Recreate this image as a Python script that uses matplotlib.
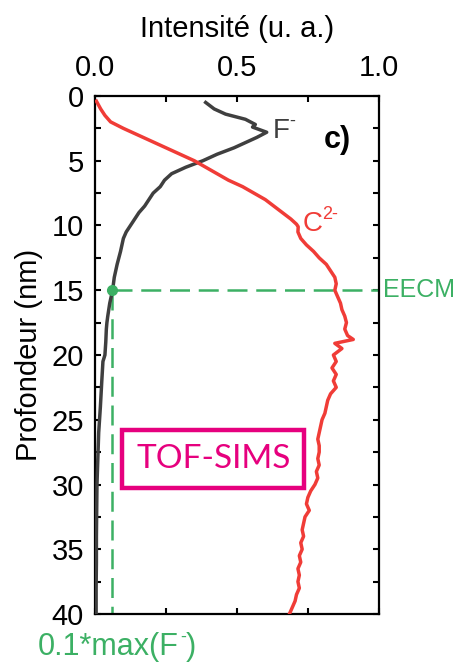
import numpy as np
import matplotlib
matplotlib.use("Agg")
import matplotlib.pyplot as plt
from matplotlib.ticker import MultipleLocator
from matplotlib.transforms import offset_copy

plt.rcParams["font.family"] = ["Liberation Sans", "DejaVu Sans"]

# ---------- data ----------
depth_f = [0.5, 1.0, 1.4, 1.8, 2.2, 2.4, 2.8, 3.2, 3.6, 4.0, 4.5, 5.0, 5.5, 6.0, 6.5,
           7.0, 7.5, 8.0, 8.5, 9.0, 9.5, 10.0, 10.5, 11.0, 11.5, 12.0, 13.0, 14.0,
           15.0, 16.0, 17.0, 17.5, 18.0, 19.0, 20.0, 20.5, 22.0, 24.0, 26.0, 28.0,
           30.0, 32.0, 34.0, 36.0, 38.0, 40.0]
f_minus = [0.39, 0.42, 0.46, 0.53, 0.565, 0.555, 0.605, 0.57, 0.53, 0.49, 0.43, 0.38,
           0.32, 0.27, 0.245, 0.23, 0.205, 0.19, 0.175, 0.155, 0.14, 0.125, 0.11, 0.10,
           0.095, 0.09, 0.078, 0.068, 0.062, 0.052, 0.045, 0.042, 0.040, 0.038, 0.035,
           0.028, 0.024, 0.019, 0.013, 0.010, 0.007, 0.006, 0.005, 0.005, 0.004, 0.004]

depth_c = [0.4, 1.0, 1.5, 2.0, 2.5, 3.0, 3.5, 4.0, 4.5, 5.0, 5.5, 6.0, 6.5, 7.0, 7.5,
           8.0, 8.5, 9.0, 9.5, 9.9, 10.1, 10.5, 11.0, 11.5, 12.0, 12.5, 13.0, 13.5,
           14.0, 14.5, 15.0, 15.5, 16.0, 16.5, 17.0, 17.5, 18.0, 18.5, 18.8, 19.1,
           19.5, 20.0, 20.5, 21.0, 21.5, 22.0, 22.5, 23.0, 23.5, 24.0, 24.5, 25.0,
           25.5, 26.0, 26.5, 27.0, 27.5, 28.0, 28.5, 29.0, 29.5, 30.0, 30.5, 31.0,
           31.5, 32.0, 32.5, 33.0, 33.5, 34.0, 34.5, 35.0, 35.5, 36.0, 36.5, 37.0,
           37.5, 38.0, 38.5, 39.0, 39.5, 40.0]
c2_minus = [0.005, 0.02, 0.035, 0.055, 0.10, 0.15, 0.20, 0.25, 0.30, 0.35, 0.39, 0.43,
            0.47, 0.52, 0.56, 0.60, 0.63, 0.66, 0.69, 0.71, 0.716, 0.715, 0.725, 0.745,
            0.77, 0.79, 0.815, 0.83, 0.845, 0.85, 0.845, 0.855, 0.865, 0.87, 0.88,
            0.886, 0.88, 0.89, 0.91, 0.845, 0.87, 0.84, 0.85, 0.835, 0.85, 0.84, 0.85,
            0.83, 0.82, 0.815, 0.81, 0.80, 0.795, 0.79, 0.785, 0.79, 0.79, 0.785,
            0.79, 0.78, 0.785, 0.775, 0.76, 0.75, 0.745, 0.755, 0.74, 0.735, 0.73,
            0.735, 0.725, 0.73, 0.72, 0.725, 0.715, 0.72, 0.715, 0.72, 0.71, 0.705,
            0.695, 0.685]

eecm_depth = 15.0
threshold = 0.06
depth_max = 40.0

x_ticks = [0.0, 0.5, 1.0]
x_tick_labels = ["0.0", "0.5", "1.0"]
y_ticks = [0, 5, 10, 15, 20, 25, 30, 35, 40]

GREY = "#3f3f3f"
RED = "#f03c37"
GREEN = "#3cb064"
MAGENTA = "#e6007e"

fig = plt.figure(figsize=(4.6, 6.62), dpi=100)
ax = fig.add_axes([0.2065, 0.0725, 0.617, 0.7825])

ax.plot(f_minus, depth_f, color=GREY, lw=2.5, zorder=3)
ax.plot(c2_minus, depth_c, color=RED, lw=2.5, zorder=3)

# EECM guides
dash = (0, (8, 3.5))
ax.plot([threshold, 1.0], [eecm_depth, eecm_depth], color=GREEN, lw=1.8, ls=dash, zorder=2)
ax.plot([threshold, threshold], [eecm_depth, depth_max], color=GREEN, lw=1.8, ls=dash, zorder=2)
ax.plot([threshold], [eecm_depth], "o", color=GREEN, ms=7, zorder=4)

ax.set_xlim(0, 1.0)
ax.set_ylim(depth_max, 0)
ax.xaxis.set_label_position("top")
ax.xaxis.tick_top()
ax.set_xticks(x_ticks)
ax.set_xticklabels(x_tick_labels)
ax.set_yticks(y_ticks)
ax.xaxis.set_minor_locator(MultipleLocator(0.25))
ax.yaxis.set_minor_locator(MultipleLocator(2.5))
ax.tick_params(which="both", direction="in", top=True, bottom=True, left=True, right=True,
               labeltop=True, labelbottom=False, width=1.5, length=4.5, labelsize=21, pad=10)
ax.tick_params(axis="y", pad=8)
for s in ax.spines.values():
    s.set_linewidth(1.6)

ax.set_xlabel("Intensité (u. a.)", fontsize=21, labelpad=12)
ax.set_ylabel("Profondeur (nm)", fontsize=21, labelpad=6)

# text with a raised charge sign, pieces placed by point offsets from one anchor
def charged(x, y, base, charge, color, dx, size=20, trans=None, tail=None):
    trans = trans or ax.transData
    ax.text(x, y, base, color=color, fontsize=size, va="center", ha="left",
            transform=trans, clip_on=False)
    tr = offset_copy(trans, fig=fig, x=dx, y=7, units="points")
    ax.text(x, y, charge, color=color, fontsize=13, va="center", ha="left",
            transform=tr, clip_on=False)
    if tail:
        tr2 = offset_copy(trans, fig=fig, x=dx + 4.5, y=0, units="points")
        ax.text(x, y, tail, color=color, fontsize=size, va="center", ha="left",
                transform=tr2, clip_on=False)

charged(0.625, 2.7, "F", "-", GREY, 12.5)
charged(0.73, 9.9, "C", "2-", RED, 14.5)
ax.text(0.805, 3.4, "c)", fontsize=22, fontweight="bold", va="center", ha="left")

ax.text(1.015, eecm_depth, "EECM", color=GREEN, fontsize=18, va="center", ha="left",
        clip_on=False)
charged(0.083, 0.022, "0.1*max(F", "-", GREEN, 102, size=22,
        trans=fig.transFigure, tail=")")

ax.text(0.4166, 28.0, "TOF-SIMS", color=MAGENTA, fontsize=24, family="Lato",
        ha="center", va="center",
        bbox=dict(boxstyle="square,pad=0.42", fc="white", ec=MAGENTA, lw=3.2))

fig.savefig("out.png", dpi=100)
